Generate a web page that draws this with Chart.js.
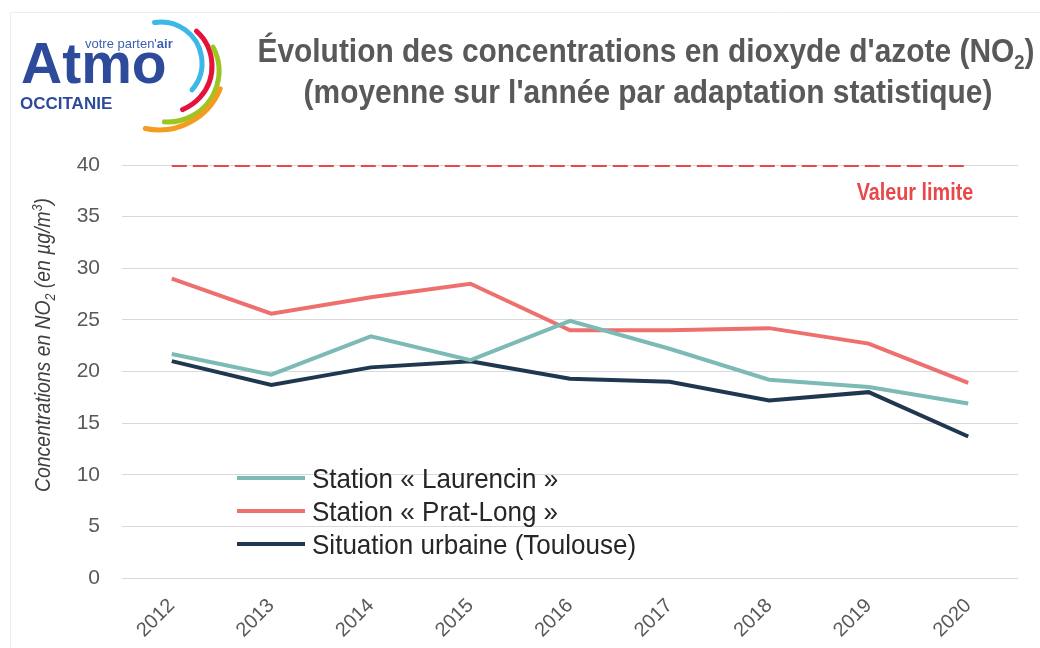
<!DOCTYPE html>
<html lang="fr">
<head>
<meta charset="UTF-8">
<title>Évolution des concentrations en dioxyde d'azote</title>
<script src="https://cdn.jsdelivr.net/npm/chart.js"></script>
<style>
  body { margin: 0; background: #fff; }
  #wrap { width: 1040px; height: 648px; position: relative; }
</style>
</head>
<body>
<div id="wrap"><canvas id="chart"></canvas></div>
<script>
// données (µg/m3)
const years = ['2012', '2013', '2014', '2015', '2016', '2017', '2018', '2019', '2020'];
const laurencin = [21.7, 19.7, 23.4, 21.1, 24.9, 22.2, 19.2, 18.5, 16.9];
const pratLong = [29.0, 25.6, 27.2, 28.5, 24.0, 24.0, 24.2, 22.7, 18.9];
const toulouse = [21.0, 18.7, 20.4, 21.0, 19.3, 19.0, 17.2, 18.0, 13.7];
const valeurLimite = [40, 40, 40, 40, 40, 40, 40, 40, 40];
const seriesLabels = ['Station « Laurencin »', 'Station « Prat-Long »', 'Situation urbaine (Toulouse)'];
const yMin = 0, yMax = 40, yStep = 5;

const SANS = "'Liberation Sans', Arial, sans-serif";
const colors = ['#7cbab5', '#ee706e', '#1f384f'];
const limitColor = '#e8484a';

// texte condensé horizontalement, avec indices / exposants
function drawParts(ctx, parts, x, y, size, style, align, sx) {
  const fontFor = p => `${style} ${p.s ? Math.round(size * 0.62) : size}px ${SANS}`;
  const widths = parts.map(p => { ctx.font = fontFor(p); return ctx.measureText(p.t).width; });
  const total = widths.reduce((a, b) => a + b, 0);
  ctx.save();
  ctx.translate(x, y);
  ctx.scale(sx, 1);
  ctx.textAlign = 'left';
  let cx = align === 'center' ? -total / 2 : align === 'right' ? -total : 0;
  parts.forEach((p, i) => {
    ctx.font = fontFor(p);
    let dy = 0;
    if (p.s === 'sub') dy = size * 0.22;
    if (p.s === 'sup') dy = -size * 0.38;
    ctx.fillText(p.t, cx, dy);
    cx += widths[i];
  });
  ctx.restore();
}

const decor = {
  id: 'decor',
  afterDraw(chart) {
    const ctx = chart.ctx;
    const xs = chart.scales.x, ys = chart.scales.y;
    ctx.save();

    // cadre léger
    ctx.strokeStyle = '#eeeeee';
    ctx.lineWidth = 1;
    ctx.beginPath();
    ctx.moveTo(10.5, 648); ctx.lineTo(10.5, 12.5); ctx.lineTo(1040, 12.5);
    ctx.stroke();

    // logo
    const arcs = [
      ['#3bb7e8', 161, 63, 41, -99, 41],
      ['#e5133b', 165, 66, 47, -48, 68],
      ['#9cc422', 168, 71, 51, -28, 94],
      ['#f39c1f', 159, 64, 66, 22, 102]
    ];
    ctx.lineWidth = 5;
    ctx.lineCap = 'round';
    arcs.forEach(a => {
      ctx.strokeStyle = a[0];
      ctx.beginPath();
      ctx.arc(a[1], a[2], a[3], a[4] * Math.PI / 180, a[5] * Math.PI / 180);
      ctx.stroke();
    });
    ctx.fillStyle = '#2d4b9a';
    ctx.textAlign = 'left';
    ctx.textBaseline = 'alphabetic';
    ctx.font = `bold 57px ${SANS}`;
    ctx.fillText('Atmo', 21, 83);
    ctx.font = `bold 17px ${SANS}`;
    ctx.fillText('OCCITANIE', 20, 109);
    ctx.fillStyle = '#3c5fb0';
    ctx.font = `13px ${SANS}`;
    const vp = "votre parten'";
    ctx.fillText(vp, 85, 48);
    const vw = ctx.measureText(vp).width;
    ctx.font = `bold 13px ${SANS}`;
    ctx.fillText('air', 85 + vw, 48);

    // titre
    ctx.fillStyle = '#595959';
    drawParts(ctx, [
      { t: "Évolution des concentrations en dioxyde d'azote (NO" },
      { t: '2', s: 'sub' },
      { t: ')' }
    ], 646, 62, 34, 'bold', 'center', 0.88);
    drawParts(ctx, [{ t: "(moyenne sur l'année par adaptation statistique)" }], 648, 103, 34, 'bold', 'center', 0.88);

    // titre de l'axe vertical
    ctx.save();
    ctx.translate(50, 345);
    ctx.rotate(-Math.PI / 2);
    ctx.fillStyle = '#404040';
    drawParts(ctx, [
      { t: 'Concentrations en NO' },
      { t: '2', s: 'sub' },
      { t: ' (en µg/m' },
      { t: '3', s: 'sup' },
      { t: ')' }
    ], 0, 0, 22, 'italic', 'center', 0.88);
    ctx.restore();

    // étiquette valeur limite
    ctx.fillStyle = limitColor;
    drawParts(ctx, [{ t: 'Valeur limite' }],
      xs.getPixelForValue(years.length - 1) + 5, ys.getPixelForValue(yMax) + 35, 23, 'bold', 'right', 0.86);

    // légende
    ctx.lineCap = 'butt';
    for (let i = 0; i < 3; i++) {
      const ds = chart.data.datasets[i];
      const ly = 478 + i * 33;
      ctx.strokeStyle = ds.borderColor;
      ctx.lineWidth = 4;
      ctx.beginPath();
      ctx.moveTo(237, ly); ctx.lineTo(305, ly);
      ctx.stroke();
      ctx.fillStyle = '#262626';
      drawParts(ctx, [{ t: ds.label }], 312, ly + 10, 28, 'normal', 'left', 0.93);
    }
    ctx.restore();
  }
};

const lineStyle = { borderWidth: 4, pointRadius: 0, pointHoverRadius: 0, tension: 0, fill: false };

new Chart(document.getElementById('chart'), {
  type: 'line',
  data: {
    labels: years,
    datasets: [
      { label: seriesLabels[0], data: laurencin, borderColor: colors[0], backgroundColor: colors[0], ...lineStyle },
      { label: seriesLabels[1], data: pratLong, borderColor: colors[1], backgroundColor: colors[1], ...lineStyle },
      { label: seriesLabels[2], data: toulouse, borderColor: colors[2], backgroundColor: colors[2], ...lineStyle },
      { label: 'Valeur limite', data: valeurLimite, borderColor: limitColor, ...lineStyle, borderWidth: 4, borderDash: [15, 6] }
    ]
  },
  options: {
    responsive: true,
    maintainAspectRatio: false,
    animation: false,
    layout: { padding: { top: 165, right: 22, left: 0, bottom: 0 } },
    plugins: {
      legend: { display: false },
      title: { display: false },
      tooltip: { enabled: false }
    },
    scales: {
      x: {
        offset: true,
        grid: { display: false },
        border: { display: false },
        ticks: {
          color: '#595959',
          font: { family: SANS, size: 20 },
          maxRotation: 45,
          minRotation: 45,
          padding: 8
        },
        afterFit(scale) { scale.height = 70; }
      },
      y: {
        min: yMin,
        max: yMax,
        grid: { color: '#d9d9d9', lineWidth: 1, drawTicks: false },
        border: { display: false },
        ticks: {
          stepSize: yStep,
          color: '#595959',
          font: { family: SANS, size: 21 },
          padding: 22
        },
        afterFit(scale) { scale.width = 122; }
      }
    }
  },
  plugins: [decor]
});
</script>
</body>
</html>
